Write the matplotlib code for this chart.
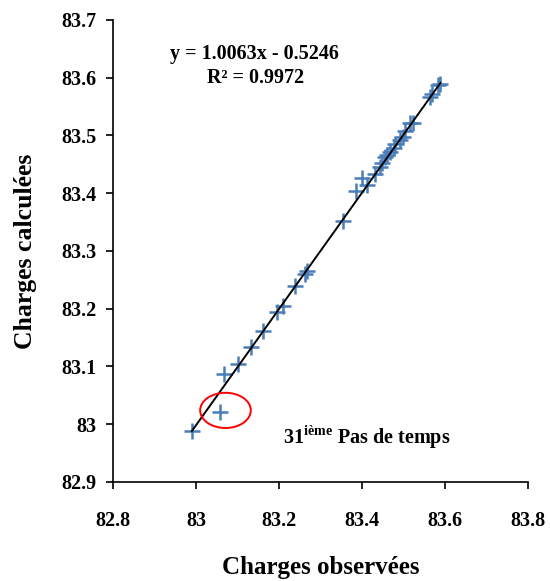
import numpy as np
import matplotlib.pyplot as plt
from matplotlib.patches import Ellipse
from matplotlib.ticker import FuncFormatter

# charges observées / calculées
observed = [82.990, 83.058, 83.068, 83.102, 83.133, 83.162, 83.195, 83.209,
            83.239, 83.263, 83.268, 83.354, 83.386, 83.400, 83.412, 83.432,
            83.444, 83.448, 83.456, 83.460, 83.468, 83.476, 83.480, 83.492,
            83.498, 83.504, 83.516, 83.524, 83.563, 83.569, 83.584, 83.589]
computed = [82.988, 83.022, 83.087, 83.105, 83.133, 83.161, 83.195, 83.205,
            83.239, 83.261, 83.265, 83.352, 83.404, 83.426, 83.414, 83.434,
            83.446, 83.452, 83.462, 83.466, 83.472, 83.478, 83.486, 83.492,
            83.498, 83.507, 83.521, 83.521, 83.566, 83.572, 83.587, 83.590]
slope = 1.0063
intercept = -0.5246
r2 = 0.9972

plt.rcParams['font.family'] = ['Liberation Serif', 'DejaVu Serif']
plt.rcParams['font.weight'] = 'bold'
plt.rcParams['mathtext.fontset'] = 'custom'
plt.rcParams['mathtext.rm'] = 'Liberation Serif'
plt.rcParams['mathtext.bf'] = 'Liberation Serif:bold'

fig = plt.figure(figsize=(5.5, 5.81), dpi=100)
ax = fig.add_axes([0.2055, 0.1704, 0.7545, 0.7952])

ax.plot(observed, computed, linestyle='none', marker='+', markersize=11.5,
        markeredgewidth=1.8, color='#4a7ebb', zorder=2)

xl = np.array([min(observed), max(observed)])
ax.plot(xl, slope * xl + intercept, color='black', linewidth=1.4, zorder=3)

ax.add_patch(Ellipse((83.071, 83.024), 0.122, 0.061, fill=False,
                     edgecolor='red', linewidth=1.4, zorder=4))

ax.set_xlim(82.8, 83.8)
ax.set_ylim(82.9, 83.7)
ax.set_xticks(np.arange(82.8, 83.81, 0.2))
ax.set_yticks(np.arange(82.9, 83.71, 0.1))
fmt = FuncFormatter(lambda v, p: '{:g}'.format(round(v, 2)))
ax.xaxis.set_major_formatter(fmt)
ax.yaxis.set_major_formatter(fmt)
ax.tick_params(direction='out', length=5, width=1.2, labelsize=14.5, pad=7)
ax.tick_params(axis='x', pad=16)
for lab in ax.get_xticklabels() + ax.get_yticklabels():
    lab.set_fontweight('bold')

ax.spines['top'].set_visible(False)
ax.spines['right'].set_visible(False)
ax.spines['left'].set_linewidth(1.2)
ax.spines['bottom'].set_linewidth(1.2)

ax.set_xlabel('Charges observées', fontsize=18, fontweight='bold', labelpad=18)
ax.set_ylabel('Charges calculées', fontsize=18.5, fontweight='bold', labelpad=17)

fig.text(254 / 550, 1 - 54 / 581, 'y = {:.4f}x - {:.4f}'.format(slope, -intercept),
         ha='center', va='center', fontsize=14.5, fontweight='bold')
fig.text(256 / 550, 1 - 78 / 581, 'R² = {:.4f}'.format(r2),
         ha='center', va='center', fontsize=14.5, fontweight='bold')
ax.text(83.21, 82.978, r'31$^{\mathbf{ième}}$ Pas de temps',
        fontsize=14.5, fontweight='bold', va='center', ha='left')

fig.savefig('out.png', dpi=100)
